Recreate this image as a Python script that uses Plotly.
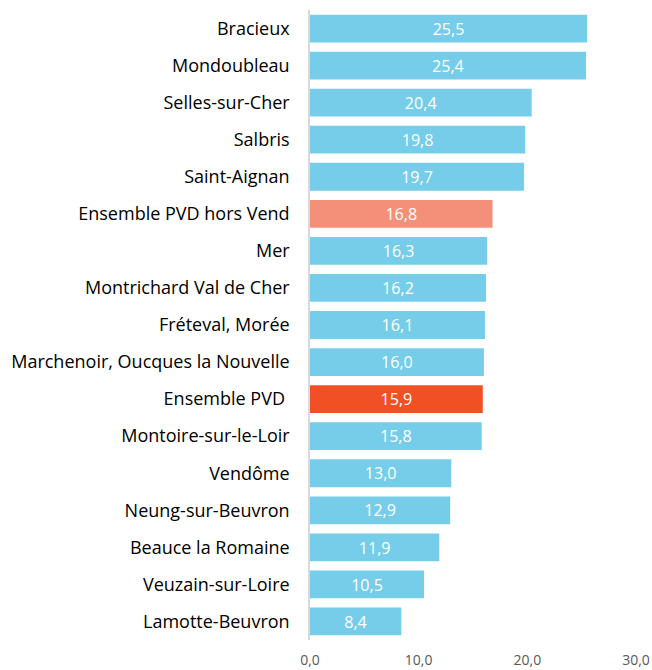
import plotly.graph_objects as go

communes = [
    "Bracieux", "Mondoubleau", "Selles-sur-Cher", "Salbris", "Saint-Aignan",
    "Ensemble PVD hors Vend", "Mer", "Montrichard Val de Cher", "Fréteval, Morée",
    "Marchenoir, Oucques la Nouvelle", "Ensemble PVD ", "Montoire-sur-le-Loir",
    "Vendôme", "Neung-sur-Beuvron", "Beauce la Romaine", "Veuzain-sur-Loire",
    "Lamotte-Beuvron",
]
valeurs = [25.5, 25.4, 20.4, 19.8, 19.7, 16.8, 16.3, 16.2, 16.1, 16.0, 15.9,
           15.8, 13.0, 12.9, 11.9, 10.5, 8.4]
tick_vals = [0, 10, 20, 30]
tick_text = ["0,0", "10,0", "20,0", "30,0"]

BLEU = "#75CDEA"
couleurs = []
for c in communes:
    if c == "Ensemble PVD hors Vend":
        couleurs.append("#F4907A")
    elif c.strip() == "Ensemble PVD":
        couleurs.append("#F05023")
    else:
        couleurs.append(BLEU)

fig = go.Figure(go.Bar(
    x=valeurs,
    y=communes,
    orientation="h",
    marker=dict(color=couleurs, line=dict(width=0)),
    text=[f"{v:.1f}".replace(".", ",") for v in valeurs],
    textposition="inside",
    insidetextanchor="middle",
    textfont=dict(color="white", size=17, family="Open Sans, sans-serif"),
    hoverinfo="skip",
))

fig.update_layout(
    width=652, height=670,
    margin=dict(l=310, r=16, t=10, b=30),
    plot_bgcolor="white", paper_bgcolor="white",
    bargap=0.25,
    showlegend=False,
    font=dict(family="Open Sans, sans-serif"),
    xaxis=dict(
        range=[0, 30], tickvals=tick_vals, ticktext=tick_text,
        showgrid=False, zeroline=False, showline=False,
        tickfont=dict(size=14, color="#595959"),
        ticklabelstandoff=10, automargin=False,
    ),
    yaxis=dict(
        categoryorder="array", categoryarray=communes[::-1],
        showgrid=False, zeroline=False,
        showline=True, linecolor="#D9D9D9", linewidth=1.5,
        ticks="", tickfont=dict(size=18, color="black"),
        ticklabelstandoff=15, automargin=False,
    ),
)

# drop the page's default body margin so the figure fills the window
fig.write_html(
    "out.html",
    config={"displayModeBar": False},
    post_script="document.body.style.margin = '0';",
)
